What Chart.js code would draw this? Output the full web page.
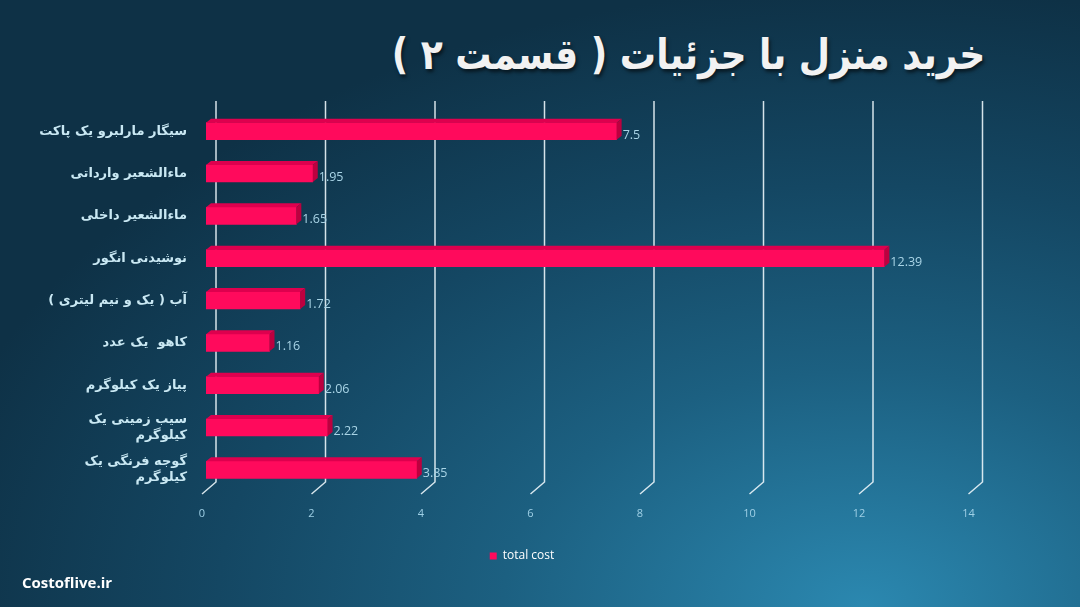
<!DOCTYPE html>
<html>
<head>
<meta charset="utf-8">
<script src="https://cdn.jsdelivr.net/npm/chart.js@4"></script>
<style>
html, body { margin: 0; padding: 0; width: 1080px; height: 607px; overflow: hidden; }
body {
    position: relative;
    background: radial-gradient(ellipse 950px 620px at 80% 100%, #2b88b0 0%, #1c6081 38%, #144763 68%, #0e3146 100%);
}
#title {
    position: absolute; right: 95px; top: 30px; margin: 0;
    font: bold 42px "DejaVu Sans", sans-serif; color: #f2f2f2;
    direction: rtl; white-space: nowrap;
    transform: scaleX(0.86); transform-origin: right center;
    text-shadow: 2px 3px 4px rgba(0, 0, 0, 0.55);
}
#site {
    position: absolute; left: 22px; top: 572px;
    font: bold 15px "Open Sans", sans-serif; color: #ffffff;
}
#wrap { position: absolute; left: 0; top: 0; width: 1080px; height: 607px; }
</style>
</head>
<body>
<h1 id="title">خرید منزل با جزئیات ( قسمت ۲ )</h1>
<div id="wrap"><canvas id="costChart" width="1080" height="607"></canvas></div>
<div id="site">Costoflive.ir</div>
<script>
// داده ها
var categories = [
    'سیگار مارلبرو یک پاکت',
    'ماءالشعیر وارداتی',
    'ماءالشعیر داخلی',
    'نوشیدنی انگور',
    'آب ( یک و نیم لیتری )\u200F',
    'کاهو  یک عدد',
    'پیاز یک کیلوگرم',
    ['سیب زمینی یک', 'کیلوگرم'],
    ['گوجه فرنگی یک', 'کیلوگرم']
];
var totalCost = [7.5, 1.95, 1.65, 12.39, 1.72, 1.16, 2.06, 2.22, 3.85];
var xMin = 0;
var xMax = 14;
var xStep = 2;

var dx = 5, dy = 4;

// خطوط شبکه سه بعدی
var grid3d = {
    id: 'grid3d',
    afterLayout: function(chart) {
        // برچسب های محور y بریده نشوند
        chart.scales.y.left = 0;
    },
    beforeDatasetsDraw: function(chart) {
        var ctx = chart.ctx, xs = chart.scales.x, area = chart.chartArea;
        ctx.save();
        ctx.strokeStyle = 'rgba(235, 245, 250, 0.9)';
        ctx.lineWidth = 1.5;
        xs.ticks.forEach(function(t) {
            var px = xs.getPixelForValue(t.value);
            ctx.beginPath();
            ctx.moveTo(px + 10, area.top - 9);
            ctx.lineTo(px + 10, area.bottom - 9);
            ctx.lineTo(px - 4, area.bottom + 3);
            ctx.stroke();
        });
        ctx.restore();
    }
};

// وجه های بالا و کنار میله ها + برچسب مقدار
var bar3d = {
    id: 'bar3d',
    afterDatasetsDraw: function(chart) {
        var ctx = chart.ctx;
        var meta = chart.getDatasetMeta(0);
        ctx.save();
        meta.data.forEach(function(bar, i) {
            var p = bar.getProps(['x', 'y', 'base', 'height'], true);
            var top = p.y - p.height / 2, bottom = p.y + p.height / 2;
            ctx.fillStyle = '#de004e';
            ctx.beginPath();
            ctx.moveTo(p.base, top);
            ctx.lineTo(p.base + dx, top - dy);
            ctx.lineTo(p.x + dx, top - dy);
            ctx.lineTo(p.x, top);
            ctx.closePath();
            ctx.fill();
            ctx.fillStyle = '#bd003f';
            ctx.beginPath();
            ctx.moveTo(p.x, top);
            ctx.lineTo(p.x + dx, top - dy);
            ctx.lineTo(p.x + dx, bottom - dy);
            ctx.lineTo(p.x, bottom);
            ctx.closePath();
            ctx.fill();
            ctx.fillStyle = '#a9d4e6';
            ctx.font = '12.5px "Open Sans", sans-serif';
            ctx.textAlign = 'left';
            ctx.textBaseline = 'middle';
            ctx.fillText(String(totalCost[i]), p.x + dx + 1, p.y + 4);
        });
        ctx.restore();
    }
};

var ctx = document.getElementById('costChart').getContext('2d');
var costChart = new Chart(ctx, {
    type: 'bar',
    data: {
        labels: categories,
        datasets: [{
            label: 'total cost',
            data: totalCost,
            backgroundColor: '#ff0a5c',
            borderWidth: 0,
            barThickness: 17
        }]
    },
    options: {
        indexAxis: 'y',
        responsive: false,
        animation: false,
        layout: {
            padding: { left: 71.5, right: 107.5, top: 110, bottom: 35 }
        },
        scales: {
            x: {
                min: xMin,
                max: xMax,
                grid: { display: false },
                border: { display: false },
                ticks: {
                    stepSize: xStep,
                    color: '#9fd0e6',
                    font: { family: 'Open Sans', size: 11 },
                    padding: 8,
                    labelOffset: -4
                },
                afterFit: function(s) { s.height = 49; }
            },
            y: {
                grid: { display: false },
                border: { display: false },
                ticks: {
                    color: '#c9e8f3',
                    font: { family: 'DejaVu Sans', size: 13, weight: 'bold' },
                    padding: 11
                },
                afterFit: function(s) { s.width = 134.5; }
            }
        },
        plugins: {
            legend: {
                position: 'bottom',
                labels: {
                    color: '#ffffff',
                    font: { family: 'Open Sans', size: 12 },
                    boxWidth: 7,
                    boxHeight: 7
                }
            },
            tooltip: { enabled: false }
        }
    },
    plugins: [grid3d, bar3d]
});
</script>
</body>
</html>
